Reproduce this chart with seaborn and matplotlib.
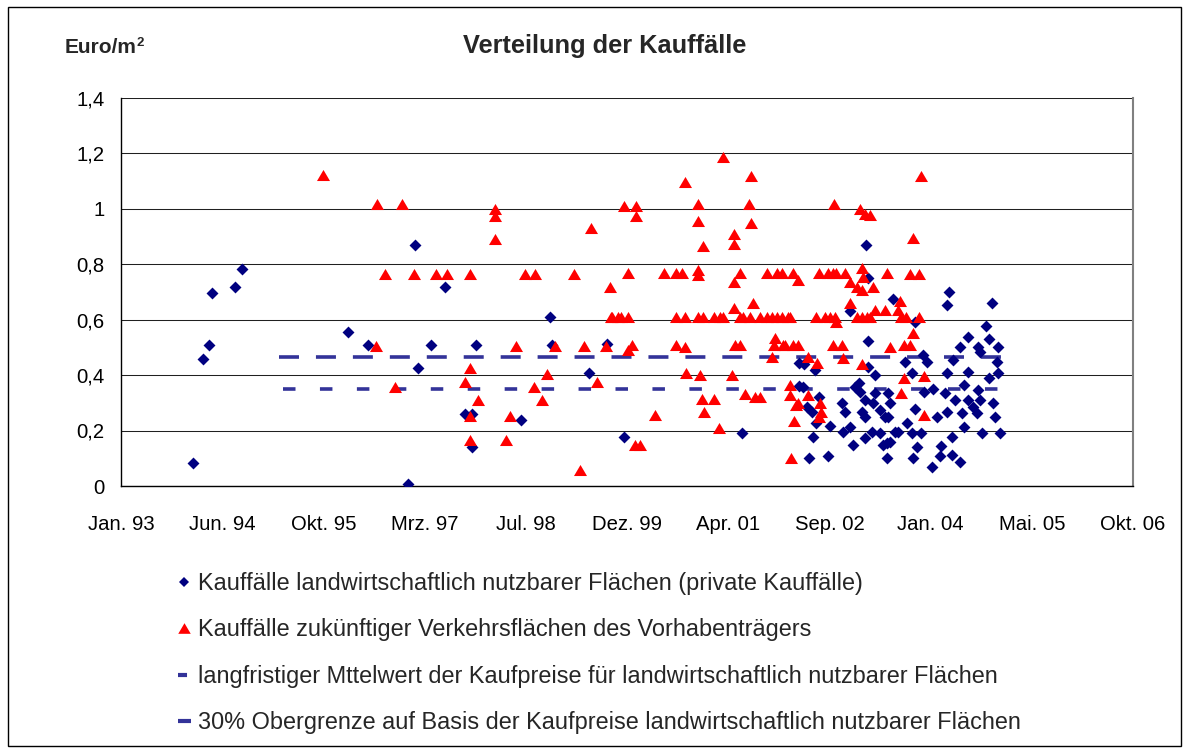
import numpy as np
import pandas as pd
import matplotlib
matplotlib.use("Agg")
import matplotlib.pyplot as plt
from matplotlib.lines import Line2D
from matplotlib.patches import Rectangle
import matplotlib.dates as mdates
import seaborn as sns

sns.set_style("white")
plt.rcParams["font.family"] = ["Liberation Sans", "DejaVu Sans"]
plt.rcParams["lines.scale_dashes"] = False

# ---------------------------------------------------------------------------
# Kauffälle landwirtschaftlich nutzbarer Flächen (private Kauffälle)
# Datum als Dezimaljahr, Preis in Euro/m²
# ---------------------------------------------------------------------------
privat_jahr_a = [1997.06, 1994.72, 1994.62, 1994.32, 1994.27, 1994.19, 1996.15, 1996.43,
                 1997.10, 1994.06, 1996.96]
privat_preis_a = [0.868, 0.781, 0.718, 0.697, 0.508, 0.459, 0.556, 0.508,
                  0.426, 0.082, 0.006]

privat_jahr_b = [1997.46, 1998.88, 1997.28, 1997.89, 1998.91, 1999.66, 1999.41, 1997.73,
                 1997.83, 1998.50, 1997.83, 1999.89, 2001.48, 2002.26, 2002.26]
privat_preis_b = [0.718, 0.610, 0.508, 0.508, 0.508, 0.512, 0.406, 0.258,
                  0.258, 0.238, 0.142, 0.178, 0.190, 0.444, 0.360]

privat_jahr_c = [2003.16, 2003.19, 2003.53, 2002.95, 2003.19, 2002.32, 2002.47, 2003.19,
                 2003.28, 2002.31, 2003.06, 2002.36, 2002.43, 2002.52, 2002.49, 2002.67,
                 2002.83, 2002.88, 2002.85, 2002.94, 2003.08, 2003.15, 2003.10, 2003.15,
                 2003.28, 2003.26, 2003.35, 2003.42, 2003.49, 2002.45, 2002.39, 2002.65,
                 2002.99, 2003.15, 2003.24, 2003.35, 2003.39, 2003.44, 2003.49, 2003.55,
                 2003.01]
privat_preis_c = [0.867, 0.748, 0.673, 0.632, 0.523, 0.440, 0.418, 0.430,
                  0.400, 0.358, 0.370, 0.286, 0.268, 0.322, 0.226, 0.216,
                  0.298, 0.268, 0.196, 0.214, 0.340, 0.310, 0.268, 0.250,
                  0.334, 0.298, 0.274, 0.250, 0.298, 0.178, 0.100, 0.108,
                  0.148, 0.172, 0.196, 0.190, 0.148, 0.100, 0.160, 0.196,
                  0.358]

privat_jahr_d = [2004.28, 2004.25, 2004.87, 2003.82, 2004.79, 2004.54, 2004.43, 2004.82,
                 2004.68, 2004.95, 2004.70, 2004.93, 2003.69, 2003.93, 2003.98, 2004.34,
                 2004.25, 2004.54, 2004.82, 2004.95, 2003.78, 2004.07, 2004.23, 2003.94,
                 2004.48, 2004.68, 2003.46, 2004.36, 2004.54, 2004.61, 2004.70, 2004.88,
                 2003.82, 2003.46, 2004.12, 2004.25, 2004.46, 2004.66, 2004.91, 2003.71,
                 2003.60, 2003.78, 2003.91, 2004.32, 2004.48, 2004.73, 2004.97, 2003.44,
                 2003.85, 2004.18, 2003.80, 2004.16, 2004.32, 2004.43, 2004.05]
privat_preis_d = [0.700, 0.652, 0.658, 0.592, 0.578, 0.536, 0.500, 0.530,
                  0.502, 0.502, 0.482, 0.448, 0.448, 0.472, 0.448, 0.454,
                  0.406, 0.412, 0.388, 0.406, 0.406, 0.348, 0.334, 0.340,
                  0.364, 0.346, 0.334, 0.310, 0.310, 0.286, 0.310, 0.298,
                  0.276, 0.250, 0.250, 0.268, 0.262, 0.262, 0.250, 0.226,
                  0.196, 0.190, 0.190, 0.178, 0.214, 0.190, 0.190, 0.156,
                  0.142, 0.144, 0.100, 0.108, 0.112, 0.088, 0.067]

# ---------------------------------------------------------------------------
# Kauffälle zukünftiger Verkehrsflächen des Vorhabenträgers
# ---------------------------------------------------------------------------
vt_jahr_a = [1995.82, 1996.54, 1996.89, 1996.66, 1997.05, 1996.53, 1996.79]
vt_preis_a = [1.120, 1.015, 1.015, 0.763, 0.763, 0.505, 0.356]

vt_jahr_b = [1998.14, 1998.14, 1998.14, 1999.44, 1997.34, 1997.49, 1997.81, 1998.55,
             1998.68, 1999.21, 1999.70, 1999.71, 1999.81, 1998.43, 1998.95, 1999.34,
             1999.64, 1997.81, 1997.73, 1997.91, 1997.80, 1998.34, 1998.85, 1998.67,
             1998.78, 1999.52, 1997.80, 1998.29, 1999.29]
vt_preis_b = [0.997, 0.973, 0.889, 0.929, 0.763, 0.763, 0.763, 0.763,
              0.763, 0.763, 0.718, 0.608, 0.608, 0.505, 0.505, 0.505,
              0.505, 0.424, 0.376, 0.310, 0.253, 0.253, 0.404, 0.356,
              0.310, 0.376, 0.166, 0.166, 0.058]

vt_jahr_c = [2001.22, 2000.71, 2001.61, 1999.89, 2000.05, 2000.05, 2000.89, 2001.58,
             2000.89, 2001.61, 2001.37, 2001.37, 2000.95]
vt_preis_c = [1.184, 1.097, 1.118, 1.010, 1.010, 0.973, 1.016, 1.016,
              0.956, 0.949, 0.908, 0.872, 0.866]

vt_jahr_d = [1999.94, 2000.43, 2000.59, 2000.67, 2000.89, 2000.89, 2001.46, 2001.37,
             2001.82, 2001.95, 2002.03, 2002.17, 2002.24]
vt_preis_d = [0.766, 0.766, 0.766, 0.766, 0.778, 0.760, 0.766, 0.736,
              0.766, 0.766, 0.766, 0.766, 0.742]

vt_jahr_e = [1999.72, 1999.84, 1999.94, 2000.59, 2000.71, 2000.89, 2000.95, 2001.10,
             2001.18, 2001.23, 2001.46, 2001.50, 2001.59, 2001.73, 2001.82, 2001.89,
             2001.95, 2002.11, 2001.37, 2001.63]
vt_preis_e = [0.610, 0.610, 0.610, 0.610, 0.610, 0.610, 0.610, 0.610,
              0.610, 0.610, 0.610, 0.610, 0.610, 0.610, 0.610, 0.610,
              0.610, 0.610, 0.640, 0.658]

vt_jahr_f = [1999.94, 2000.00, 2000.59, 2000.71, 2001.39, 2001.46, 2001.89, 2001.93,
             2001.91, 2002.07, 2002.17, 2002.24]
vt_preis_f = [0.490, 0.508, 0.508, 0.502, 0.508, 0.508, 0.466, 0.532,
              0.508, 0.508, 0.508, 0.508]

vt_jahr_g = [2000.73, 2000.91, 2001.35, 2000.94, 2001.10, 2000.97, 2001.52, 2001.66,
             2001.72, 2000.31, 2001.17, 2000.04, 2000.11, 2002.13, 2002.13, 2002.22,
             2002.19, 2002.14]
vt_preis_g = [0.406, 0.400, 0.400, 0.312, 0.312, 0.268, 0.332, 0.320,
              0.320, 0.256, 0.208, 0.148, 0.148, 0.364, 0.328, 0.292,
              0.235, 0.100]

vt_jahr_h = [2002.73, 2003.08, 2003.15, 2003.22, 2002.52, 2002.65, 2002.72, 2002.76,
             2002.88, 2002.94, 2003.10, 2003.12, 2003.04, 2003.10, 2003.26, 2003.44,
             2002.95]
vt_preis_h = [1.016, 1.000, 0.980, 0.975, 0.766, 0.766, 0.766, 0.766,
              0.766, 0.736, 0.785, 0.754, 0.718, 0.706, 0.718, 0.766,
              0.658]

vt_jahr_i = [2002.02, 2002.13, 2002.49, 2002.61, 2002.67, 2002.74, 2002.76, 2003.04,
             2003.10, 2003.17, 2003.21, 2003.28, 2003.42, 2003.60, 2002.04, 2002.72,
             2002.83, 2003.49]
vt_preis_i = [0.610, 0.610, 0.610, 0.610, 0.610, 0.610, 0.592, 0.610,
              0.610, 0.610, 0.610, 0.634, 0.634, 0.634, 0.508, 0.508,
              0.508, 0.500]

vt_jahr_j = [2002.38, 2002.50, 2002.85, 2003.10, 2002.24, 2002.38, 2002.54, 2002.55,
             2002.53]
vt_preis_j = [0.466, 0.442, 0.460, 0.440, 0.298, 0.328, 0.298, 0.268,
              0.250]

vt_jahr_k = [2003.90, 2003.80, 2003.75, 2003.88, 2003.62, 2003.64, 2003.70, 2003.88,
             2003.80, 2003.67, 2003.76, 2003.67, 2003.95, 2003.64, 2003.95]
vt_preis_k = [1.117, 0.892, 0.763, 0.763, 0.668, 0.610, 0.610, 0.610,
              0.550, 0.508, 0.508, 0.388, 0.396, 0.334, 0.256]

# Referenzlinien (Zeitraum und Niveau)
linie_jahr = [1995.27, 2005.07]
mittelwert = 0.35
obergrenze = 0.465

# Beschriftungen
titel = "Verteilung der Kauffälle"
einheit = "Euro/m"
einheit_hoch = "2"
legende = [
    "Kauffälle landwirtschaftlich nutzbarer Flächen (private Kauffälle)",
    "Kauffälle zukünftiger Verkehrsflächen des Vorhabenträgers",
    "langfristiger Mttelwert der Kaufpreise für landwirtschaftlich nutzbarer Flächen",
    "30% Obergrenze auf Basis der Kaufpreise landwirtschaftlich nutzbarer Flächen",
]
monate = ["Jan", "Feb", "Mrz", "Apr", "Mai", "Jun", "Jul", "Aug", "Sep", "Okt", "Nov", "Dez"]

NAVY = "#000080"
RED = "#FF0000"
LINE = "#333399"


def to_days(jahre):
    """Dezimaljahr -> matplotlib-Datumszahl (Tage seit 1970-01-01)."""
    return (np.asarray(jahre, dtype=float) - 1970.0) * 365.25


privat = pd.DataFrame({
    "Datum": to_days(privat_jahr_a + privat_jahr_b + privat_jahr_c + privat_jahr_d),
    "Preis": privat_preis_a + privat_preis_b + privat_preis_c + privat_preis_d,
})
vt = pd.DataFrame({
    "Datum": to_days(vt_jahr_a + vt_jahr_b + vt_jahr_c + vt_jahr_d + vt_jahr_e + vt_jahr_f
                     + vt_jahr_g + vt_jahr_h + vt_jahr_i + vt_jahr_j + vt_jahr_k),
    "Preis": (vt_preis_a + vt_preis_b + vt_preis_c + vt_preis_d + vt_preis_e + vt_preis_f
              + vt_preis_g + vt_preis_h + vt_preis_i + vt_preis_j + vt_preis_k),
})

W, H = 1189, 753
fig = plt.figure(figsize=(W / 100, H / 100), dpi=100)
fig.patch.set_facecolor("white")
ax = fig.add_axes([121 / W, 1 - 486 / H, (1133 - 121) / W, (486 - 97.5) / H])

# Dreieck etwas breiter als hoch
dreieck = [(0, 0.85), (-1, -0.85), (1, -0.85), (0, 0.85)]

# Referenzlinien unter den Punkten
ld = to_days(linie_jahr)
sns.lineplot(x=ld, y=[mittelwert, mittelwert], ax=ax, color=LINE, linewidth=2.6, zorder=2)
ax.lines[-1].set_dashes([9.0, 17.6])
ld2 = to_days([linie_jahr[0] - 0.05, linie_jahr[1]])
sns.lineplot(x=ld2, y=[obergrenze, obergrenze], ax=ax, color=LINE, linewidth=2.6, zorder=2)
ax.lines[-1].set_dashes([14.4, 12.2])

sns.scatterplot(data=privat, x="Datum", y="Preis", ax=ax, marker="D", s=37,
                color=NAVY, linewidth=0, zorder=3)
sns.scatterplot(data=vt, x="Datum", y="Preis", ax=ax, marker=dreieck, s=88,
                color=RED, linewidth=0, zorder=4)

# Achsen
x0 = 8431.0  # 31.01.1993
ax.set_xlim(x0, x0 + 5000)
ax.set_ylim(0, 1.4)
ax.set_xticks(x0 + 500 * np.arange(11))


def datum_fmt(v, pos=None):
    d = mdates.num2date(v)
    return f"{monate[d.month - 1]}. {d.year % 100:02d}"


ax.xaxis.set_major_formatter(plt.FuncFormatter(datum_fmt))
ax.set_yticks(np.round(np.arange(0, 1.41, 0.2), 1))
ax.yaxis.set_major_formatter(plt.FuncFormatter(lambda v, p: f"{v:g}".replace(".", ",")))
ax.set_xlabel("")
ax.set_ylabel("")

ax.yaxis.grid(True, color="#202020", linewidth=0.75)
ax.xaxis.grid(False)
ax.set_axisbelow(True)

for s in ("left", "bottom"):
    ax.spines[s].set_color("black")
    ax.spines[s].set_linewidth(1.0)
ax.spines["top"].set_visible(False)
ax.spines["right"].set_color("#808080")
ax.spines["right"].set_linewidth(1.5)

ax.tick_params(axis="both", direction="out", length=5, width=1, color="black",
               labelsize=14.6, labelcolor="black")
ax.tick_params(axis="x", pad=16)
ax.tick_params(axis="y", pad=7)

# Titel und Einheit
fig.text(605 / W, 1 - 46 / H, titel, ha="center", va="center", fontsize=18.3, fontweight="bold")
t_einheit = fig.text(65 / W, 1 - 53 / H, einheit, ha="left", va="baseline",
                     fontsize=15, fontweight="bold")
renderer = fig.canvas.get_renderer()
bb = t_einheit.get_window_extent(renderer)
fig.text((bb.x1 - 0.5) / W, 1 - 46.5 / H, einheit_hoch, ha="left", va="baseline",
         fontsize=9.5, fontweight="bold")

# Legende unter dem Diagramm
handles = [
    Line2D([], [], ls="none", marker="D", color=NAVY, markersize=5.5, markeredgewidth=0),
    Line2D([], [], ls="none", marker=dreieck, color=RED, markersize=9, markeredgewidth=0),
    Line2D([], [], color=LINE, linewidth=3, linestyle=(0, (6.5, 30)), dash_capstyle="butt"),
    Line2D([], [], color=LINE, linewidth=3, solid_capstyle="butt"),
]
fig.legend(handles, legende, loc="upper left", bbox_to_anchor=(178 / W, 1 - 572 / H),
           frameon=False, fontsize=16.9, handlelength=0.55, handletextpad=0.3,
           labelspacing=1.0, borderpad=0, borderaxespad=0)

# Rahmen um die gesamte Grafik
fig.add_artist(Rectangle((8 / W, 7 / H), (1181 - 8) / W, (746 - 7) / H,
                         transform=fig.transFigure, fill=False, edgecolor="black", linewidth=1))

fig.savefig("out.png", dpi=100, facecolor="white")
